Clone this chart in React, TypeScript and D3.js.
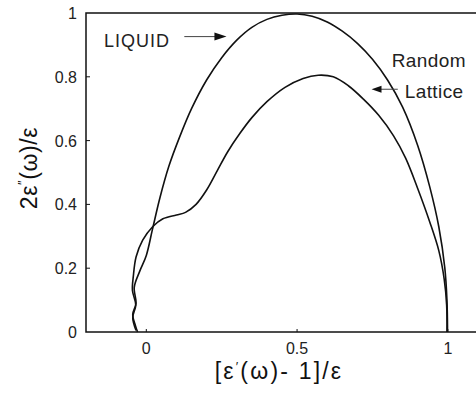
import { useEffect, useRef } from 'react';
import * as d3 from 'd3';

const liquid: [number, number][] = [
  [-0.029, 0], [-0.036, 0.02], [-0.045, 0.055], [-0.034, 0.09], [-0.04, 0.14],
  [-0.022, 0.19], [0.0, 0.24], [0.02, 0.32], [0.045, 0.42], [0.075, 0.52],
  [0.11, 0.61], [0.15, 0.7], [0.2, 0.79], [0.25, 0.86], [0.3, 0.915],
  [0.35, 0.955], [0.4, 0.98], [0.45, 0.993], [0.5, 0.997], [0.55, 0.99],
  [0.6, 0.972], [0.65, 0.943], [0.7, 0.905], [0.75, 0.855], [0.8, 0.79],
  [0.85, 0.705], [0.9, 0.585], [0.94, 0.455], [0.97, 0.33], [0.99, 0.2],
  [0.997, 0.1], [0.999, 0],
];

const randomLattice: [number, number][] = [
  [-0.034, 0.005], [-0.045, 0.045], [-0.035, 0.085], [-0.046, 0.13], [-0.043, 0.175],
  [-0.034, 0.235], [-0.012, 0.288], [0.021, 0.33], [0.055, 0.355], [0.1, 0.367],
  [0.13, 0.375], [0.165, 0.4], [0.2, 0.445], [0.235, 0.505], [0.27, 0.565],
  [0.31, 0.622], [0.35, 0.672], [0.4, 0.722], [0.46, 0.767], [0.52, 0.795],
  [0.57, 0.805], [0.62, 0.8], [0.67, 0.772], [0.72, 0.73], [0.77, 0.68],
  [0.82, 0.615], [0.86, 0.545], [0.9, 0.45], [0.94, 0.345], [0.97, 0.255],
  [0.988, 0.165], [0.996, 0.085], [0.997, 0],
];

const xTicks = [0, 0.5, 1];
const yTicks = [0, 0.2, 0.4, 0.6, 0.8, 1];

const width = 476;
const height = 403;
const margin = { top: 13, right: -2, bottom: 71, left: 86 };

const App = () => {
  const svgRef = useRef<SVGSVGElement>(null);

  useEffect(() => {
    const svg = d3.select(svgRef.current);
    svg.selectAll('*').remove();

    const x = d3
      .scaleLinear()
      .domain([-0.2, 1.1])
      .range([margin.left, width - margin.right]);
    const y = d3
      .scaleLinear()
      .domain([0, 1])
      .range([height - margin.bottom, margin.top]);

    const font = '"Liberation Sans", Arial, sans-serif';

    // frame
    svg
      .append('rect')
      .attr('x', x(-0.2))
      .attr('y', y(1))
      .attr('width', x(1.1) - x(-0.2))
      .attr('height', y(0) - y(1))
      .attr('fill', 'none')
      .attr('stroke', '#111')
      .attr('stroke-width', 1.5);

    // inward ticks
    svg
      .append('g')
      .selectAll('line')
      .data(yTicks.slice(1, -1))
      .join('line')
      .attr('x1', x(-0.2))
      .attr('x2', x(-0.2) + 4)
      .attr('y1', (d) => y(d))
      .attr('y2', (d) => y(d))
      .attr('stroke', '#111');

    svg
      .append('g')
      .selectAll('line')
      .data(xTicks)
      .join('line')
      .attr('x1', (d) => x(d))
      .attr('x2', (d) => x(d))
      .attr('y1', y(0))
      .attr('y2', y(0) - 3)
      .attr('stroke', '#111');

    svg
      .append('g')
      .selectAll('text')
      .data(yTicks)
      .join('text')
      .attr('x', x(-0.2) - 9)
      .attr('y', (d) => y(d) + 6)
      .attr('text-anchor', 'end')
      .attr('font-family', font)
      .attr('font-size', 16)
      .attr('fill', '#222')
      .text((d) => String(d));

    svg
      .append('g')
      .selectAll('text')
      .data(xTicks)
      .join('text')
      .attr('x', (d) => x(d))
      .attr('y', y(0) + 22)
      .attr('text-anchor', 'middle')
      .attr('font-family', font)
      .attr('font-size', 16)
      .attr('fill', '#222')
      .text((d) => String(d));

    // curves
    const line = d3
      .line<[number, number]>()
      .x((d) => x(d[0]))
      .y((d) => y(d[1]))
      .curve(d3.curveCatmullRom);

    svg
      .selectAll('.curve')
      .data([liquid, randomLattice])
      .join('path')
      .attr('class', 'curve')
      .attr('d', line)
      .attr('fill', 'none')
      .attr('stroke', '#111')
      .attr('stroke-width', 1.6);

    // annotations
    svg
      .append('text')
      .attr('x', x(-0.14))
      .attr('y', y(0.894))
      .attr('font-family', font)
      .attr('font-size', 18)
      .attr('letter-spacing', 1)
      .attr('fill', '#222')
      .text('LIQUID');

    const ay = y(0.926);
    svg
      .append('line')
      .attr('x1', x(0.126))
      .attr('x2', x(0.24))
      .attr('y1', ay)
      .attr('y2', ay)
      .attr('stroke', '#444')
      .attr('stroke-width', 1);
    svg
      .append('path')
      .attr('d', `M${x(0.266)},${ay} L${x(0.226)},${ay - 4} L${x(0.226)},${ay + 4} Z`)
      .attr('fill', '#111');

    svg
      .append('text')
      .attr('x', x(0.814))
      .attr('y', y(0.832))
      .attr('font-family', font)
      .attr('font-size', 19)
      .attr('letter-spacing', 0.4)
      .attr('fill', '#222')
      .text('Random');
    svg
      .append('text')
      .attr('x', x(0.857))
      .attr('y', y(0.734))
      .attr('font-family', font)
      .attr('font-size', 19)
      .attr('letter-spacing', 0.4)
      .attr('fill', '#222')
      .text('Lattice');

    const by = y(0.761);
    svg
      .append('line')
      .attr('x1', x(0.834))
      .attr('x2', x(0.77))
      .attr('y1', by)
      .attr('y2', by)
      .attr('stroke', '#444')
      .attr('stroke-width', 1);
    svg
      .append('path')
      .attr('d', `M${x(0.747)},${by} L${x(0.78)},${by - 3.5} L${x(0.78)},${by + 3.5} Z`)
      .attr('fill', '#111');

    // axis titles
    const xt = svg
      .append('text')
      .attr('x', 279)
      .attr('y', 379)
      .attr('text-anchor', 'middle')
      .attr('font-family', font)
      .attr('font-size', 23)
      .attr('letter-spacing', 2.2)
      .attr('fill', '#111');
    xt.append('tspan').text('[ε');
    xt.append('tspan').attr('dy', -8).attr('font-size', 13).text('′');
    xt.append('tspan').attr('dy', 8).text('(ω)- 1]/ε');

    const yt = svg
      .append('text')
      .attr('transform', 'translate(37,168) rotate(-90)')
      .attr('text-anchor', 'middle')
      .attr('font-family', font)
      .attr('font-size', 23)
      .attr('letter-spacing', 0.6)
      .attr('fill', '#111');
    yt.append('tspan').text('2ε');
    yt.append('tspan').attr('dy', -10).attr('font-size', 13).text('″');
    yt.append('tspan').attr('dy', 10).text('(ω)/ε');
  }, []);

  return (
    <div style={{ position: 'absolute', left: 0, top: 0 }}>
      <svg ref={svgRef} width={width} height={height} style={{ display: 'block', background: '#fff' }} />
    </div>
  );
};

export default App;
